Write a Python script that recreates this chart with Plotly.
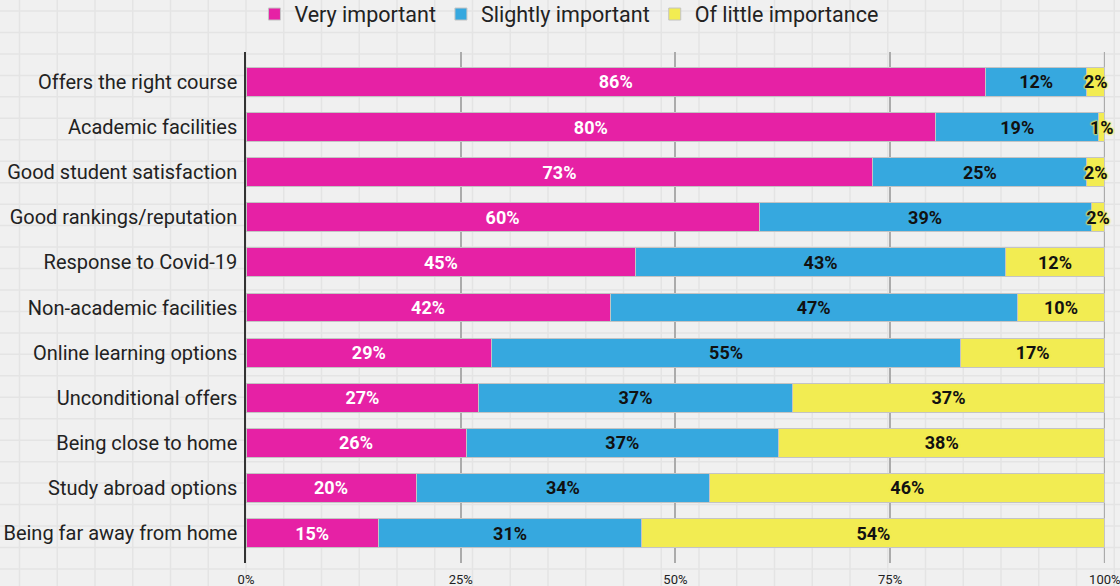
import plotly.graph_objects as go

categories = ["Offers the right course", "Academic facilities", "Good student satisfaction",
              "Good rankings/reputation", "Response to Covid-19", "Non-academic facilities",
              "Online learning options", "Unconditional offers", "Being close to home",
              "Study abroad options", "Being far away from home"]
very_important = [86.1, 80.3, 73.0, 59.8, 45.4, 42.4, 28.6, 27.4, 25.9, 19.8, 15.4]
slightly_important = [11.8, 19.0, 24.9, 38.7, 43.0, 47.4, 54.6, 36.9, 36.8, 34.2, 30.7]
little_importance = [2.1, 0.7, 2.1, 1.6, 11.6, 10.2, 16.8, 36.8, 38.4, 46.0, 53.9]
x_ticks = [0, 25, 50, 75, 100]

series = [
    ("Very important", very_important, "#E621A5", "white"),
    ("Slightly important", slightly_important, "#36A8DF", "#111111"),
    ("Of little importance", little_importance, "#F2EC52", "#111111"),
]

def label(v):
    return f"{int(v + 0.5)}%"

fig = go.Figure()
for name, vals, color, tcolor in series:
    halo = "none"
    if name == "Of little importance":
        halo = ", ".join([f"0px 0px 2px {color}"] * 4)
    fig.add_trace(go.Bar(
        name=name, y=categories, x=vals, orientation="h",
        marker=dict(color=color, line=dict(color="#c4c4c4", width=1)),
        text=[label(v) for v in vals], textposition="inside", textangle=0,
        insidetextanchor="middle", constraintext="none",
        textfont=dict(family="Roboto", size=18, color=tcolor, weight="bold", shadow=halo),
        cliponaxis=False, hoverinfo="skip",
    ))

# graph-paper background
W, H = 1120, 586
L, R, T, B = 246, 15, 52, 23
pw, ph = W - L - R, H - T - B
shapes = []
x = 19.5
while x < W:
    xp = (x - L) / pw
    shapes.append(dict(type="line", xref="paper", yref="paper", x0=xp, x1=xp,
                       y0=-B / ph, y1=1 + T / ph, line=dict(color="#e4e4e4", width=1.5), layer="below"))
    x += 37.75
y = 11
while y < H:
    yp = (H - B - y) / ph
    shapes.append(dict(type="line", xref="paper", yref="paper", y0=yp, y1=yp,
                       x0=-L / pw, x1=1 + R / pw, line=dict(color="#e4e4e4", width=1.5), layer="below"))
    y += 21.46
# gridline at the right end of the axis (100%)
shapes.append(dict(type="line", xref="x", yref="paper", x0=x_ticks[-1], x1=x_ticks[-1],
                   y0=0, y1=1, line=dict(color="#ababab", width=2), layer="below"))

fig.update_layout(
    width=W, height=H,
    barmode="stack", barnorm="percent", bargap=0.36,
    paper_bgcolor="#f0f0f0", plot_bgcolor="rgba(0,0,0,0)",
    margin=dict(l=L, r=R, t=T, b=B, pad=0, autoexpand=False),
    font=dict(family="Roboto", color="#222222"),
    uniformtext=dict(minsize=18, mode="show"),
    shapes=shapes,
    legend=dict(orientation="h", xref="container", yref="container",
                x=0.508, xanchor="center", y=0.976, yanchor="middle",
                font=dict(size=21.5, color="#222222"), bgcolor="rgba(0,0,0,0)",
                traceorder="normal", itemclick=False),
    xaxis=dict(range=[0, 100.02], tickvals=x_ticks, ticktext=[f"{t}%" for t in x_ticks],
               showgrid=True, gridcolor="#ababab", gridwidth=2, zeroline=False,
               showline=False, ticks="", ticklabelstandoff=7, automargin=False,
               ticklabeloverflow="allow",
               tickfont=dict(size=13, color="#222222"), fixedrange=True),
    yaxis=dict(range=[10.665, -0.665], showline=True, linecolor="#333333", linewidth=1.5,
               showgrid=False, ticks="", ticklabelstandoff=3, automargin=False,
               tickfont=dict(size=20, color="#222222"), fixedrange=True),
)

fig.write_html("out.html")
